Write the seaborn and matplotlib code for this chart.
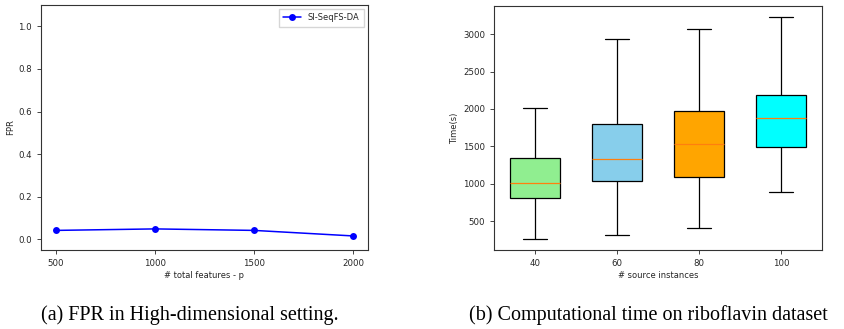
import numpy as np
import pandas as pd
import seaborn as sns
import matplotlib
matplotlib.use("Agg")
import matplotlib.pyplot as plt

# FPR vs. number of features
features = [500, 1000, 1500, 2000]
fpr = [0.042, 0.049, 0.042, 0.016]
method = "SI-SeqFS-DA"

# Computation time summary per number of source instances:
# [min, Q1, median, Q3, max]
source_instances = ["40", "60", "80", "100"]
time_40 = [265, 803, 1004, 1338, 2007]
time_60 = [309, 1031, 1325, 1801, 2942]
time_80 = [406, 1093, 1525, 1967, 3071]
time_100 = [884, 1485, 1873, 2184, 3231]
box_colors = ["#90EE90", "#87CEEB", "#FFA500", "#00FFFF"]

sns.set_theme(style="ticks")
plt.rcParams.update({
    "font.family": ["DejaVu Sans"],
    "font.size": 6,
    "axes.labelsize": 6,
    "xtick.labelsize": 6.2,
    "ytick.labelsize": 6.2,
    "legend.fontsize": 6,
    "axes.linewidth": 0.8,
    "axes.edgecolor": "#333333",
    "xtick.major.size": 3,
    "ytick.major.size": 3,
    "xtick.major.width": 0.6,
    "ytick.major.width": 0.6,
})

fig = plt.figure(figsize=(8.44, 3.29), dpi=100)
ax1 = fig.add_axes([41 / 844, 1 - 250 / 329, (368 - 41) / 844, (250 - 5) / 329])
ax2 = fig.add_axes([494 / 844, 1 - 250 / 329, (822 - 494) / 844, (250 - 6) / 329])

# (a) line plot
df_fpr = pd.DataFrame({"p": features, "FPR": fpr, "method": method})
sns.lineplot(data=df_fpr, x="p", y="FPR", hue="method", palette=["#0000ff"],
             marker="o", markersize=5, markeredgewidth=0, linewidth=1.1, ax=ax1)
ax1.set_ylim(-0.05, 1.1)
ax1.set_xlim(425, 2075)
ax1.set_xticks(features)
ax1.set_yticks([0.0, 0.2, 0.4, 0.6, 0.8, 1.0])
ax1.set_xlabel("# total features - p", labelpad=2)
ax1.set_ylabel("FPR", labelpad=2)
ax1.legend(loc="upper right", frameon=True, fancybox=False, edgecolor="#cccccc",
           handlelength=2.2, borderpad=0.5)

# (b) box plot from the five-number summaries
rows = []
for name, vals in zip(source_instances, [time_40, time_60, time_80, time_100]):
    for v in vals:
        rows.append({"n": name, "time": v})
df_time = pd.DataFrame(rows)
sns.boxplot(data=df_time, x="n", y="time", hue="n", order=source_instances,
            palette=box_colors, legend=False, width=0.6, whis=(0, 100),
            linecolor="black", linewidth=0.9, saturation=1,
            medianprops={"color": "#ff7f0e", "linewidth": 0.9}, ax=ax2)
ax2.set_ylim(112, 3378)
ax2.set_xlim(-0.5, 3.5)
ax2.set_yticks([500, 1000, 1500, 2000, 2500, 3000])
ax2.set_xlabel("# source instances", labelpad=2)
ax2.set_ylabel("Time(s)", labelpad=3)

for ax in (ax1, ax2):
    for s in ax.spines.values():
        s.set_visible(True)

fig.text(190 / 844, 1 - 315 / 329, "(a) FPR in High-dimensional setting.",
         ha="center", va="center", family="Liberation Serif", fontsize=14.5,
         color="black")
fig.text(648.5 / 844, 1 - 315 / 329, "(b) Computational time on riboflavin dataset",
         ha="center", va="center", family="Liberation Serif", fontsize=14.5,
         color="black")

fig.savefig("out.png", dpi=100)
